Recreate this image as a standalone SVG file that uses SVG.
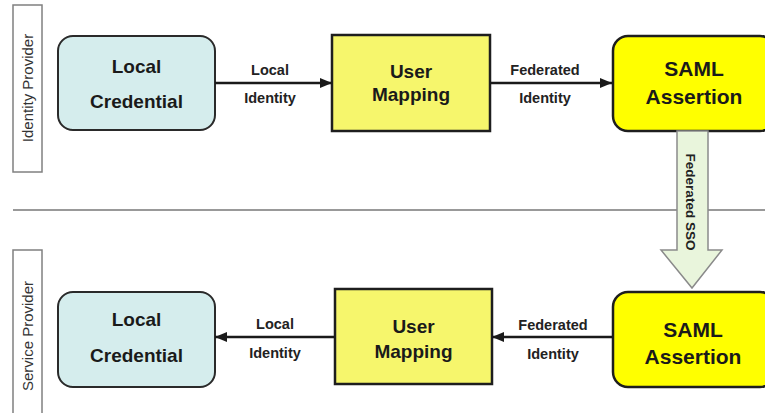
<svg xmlns="http://www.w3.org/2000/svg" width="765" height="413" viewBox="0 0 765 413">
  <defs>
    <style>
      .lane { fill: #ffffff; stroke: #808080; stroke-width: 1.5; }
      .lane-text { font-family: "Liberation Sans", Arial, sans-serif; font-size: 15px; fill: #333333; text-anchor: middle; }
      .cred { fill: #d5eded; stroke: #2a2a2a; stroke-width: 2; }
      .map { fill: #f6f66c; stroke: #1e1e1e; stroke-width: 2.5; }
      .saml { fill: #ffff00; stroke: #1e1e1e; stroke-width: 2.5; }
      .node-text { font-family: "Liberation Sans", Arial, sans-serif; font-weight: bold; font-size: 19px; fill: #1a1a1a; text-anchor: middle; }
      .saml-text { font-family: "Liberation Sans", Arial, sans-serif; font-weight: bold; font-size: 21px; fill: #1a1a1a; text-anchor: middle; }
      .edge { stroke: #1a1a1a; stroke-width: 2.5; fill: none; marker-end: url(#head); }
      .edge-text { font-family: "Liberation Sans", Arial, sans-serif; font-weight: bold; font-size: 14.5px; fill: #222222; text-anchor: middle; }
      .sso { fill: #e9f5dc; stroke: #8a8a8a; stroke-width: 1.5; }
      .sso-text { font-family: "Liberation Sans", Arial, sans-serif; font-weight: bold; font-size: 13.5px; fill: #222222; text-anchor: middle; }
      .divider { stroke: #999999; stroke-width: 2; }
    </style>
    <marker id="head" viewBox="0 0 12 10" refX="12" refY="5" markerWidth="12" markerHeight="10" markerUnits="userSpaceOnUse" orient="auto">
      <path d="M0,0 L12,5 L0,10 Z" fill="#1a1a1a"/>
    </marker>
  </defs>

  <rect width="765" height="413" fill="#ffffff"/>

  <!-- swimlane divider -->
  <line class="divider" x1="13" y1="210" x2="765" y2="210"/>

  <!-- swimlane headers -->
  <g id="lane-idp">
    <rect class="lane" x="13" y="5" width="29" height="167"/>
    <text class="lane-text" transform="translate(33,88) rotate(-90)">Identity Provider</text>
  </g>
  <g id="lane-sp">
    <rect class="lane" x="13" y="250" width="29" height="170"/>
    <text class="lane-text" transform="translate(33,336) rotate(-90)">Service Provider</text>
  </g>

  <!-- identity provider row -->
  <g id="idp-local-credential">
    <rect class="cred" x="58" y="36" width="157" height="94" rx="15" ry="15"/>
    <text class="node-text" x="136.5" y="73">Local</text>
    <text class="node-text" x="136.5" y="108">Credential</text>
  </g>
  <g id="idp-user-mapping">
    <rect class="map" x="332" y="35" width="158" height="96"/>
    <text class="node-text" x="411" y="78">User</text>
    <text class="node-text" x="411" y="101">Mapping</text>
  </g>
  <g id="idp-saml-assertion">
    <rect class="saml" x="613" y="36" width="162" height="95" rx="15" ry="15"/>
    <text class="saml-text" x="694" y="76">SAML</text>
    <text class="saml-text" x="694" y="104">Assertion</text>
  </g>

  <!-- service provider row -->
  <g id="sp-local-credential">
    <rect class="cred" x="58" y="292" width="157" height="95" rx="15" ry="15"/>
    <text class="node-text" x="136.5" y="326">Local</text>
    <text class="node-text" x="136.5" y="362">Credential</text>
  </g>
  <g id="sp-user-mapping">
    <rect class="map" x="335" y="289" width="157" height="95"/>
    <text class="node-text" x="413.5" y="333">User</text>
    <text class="node-text" x="413.5" y="358">Mapping</text>
  </g>
  <g id="sp-saml-assertion">
    <rect class="saml" x="613" y="292" width="162" height="95" rx="15" ry="15"/>
    <text class="saml-text" x="693" y="337">SAML</text>
    <text class="saml-text" x="693" y="364">Assertion</text>
  </g>

  <!-- connectors -->
  <g id="connectors">
    <line class="edge" x1="215" y1="83" x2="332" y2="83"/>
    <text class="edge-text" x="270" y="75">Local</text>
    <text class="edge-text" x="270" y="103">Identity</text>

    <line class="edge" x1="490" y1="83" x2="612" y2="83"/>
    <text class="edge-text" x="545" y="75">Federated</text>
    <text class="edge-text" x="545" y="103">Identity</text>

    <path class="sso" d="M677,131 L708,131 L708,250 L722,250 L692,288 L661,250 L677,250 Z"/>
    <text class="sso-text" transform="translate(686,202) rotate(90)">Federated SSO</text>

    <line class="edge" x1="613" y1="337" x2="492" y2="337"/>
    <text class="edge-text" x="553" y="330">Federated</text>
    <text class="edge-text" x="553" y="359">Identity</text>

    <line class="edge" x1="335" y1="337" x2="215" y2="337"/>
    <text class="edge-text" x="275" y="329">Local</text>
    <text class="edge-text" x="275" y="358">Identity</text>
  </g>
</svg>
